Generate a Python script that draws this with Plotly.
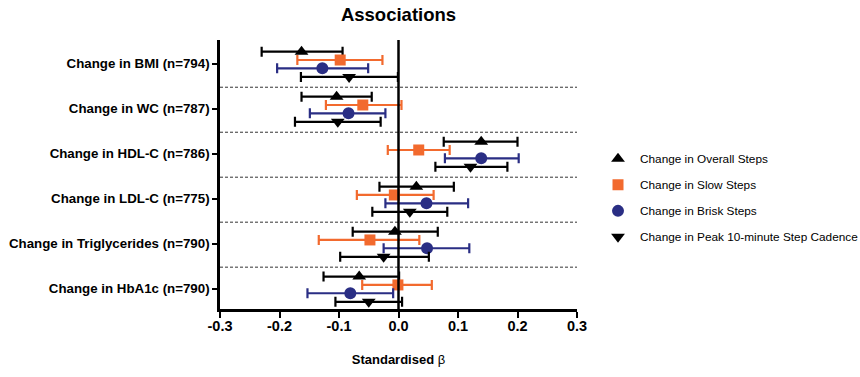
import plotly.graph_objects as go

categories = ["Change in BMI (n=794)", "Change in WC (n=787)", "Change in HDL-C (n=786)",
              "Change in LDL-C (n=775)", "Change in Triglycerides (n=790)", "Change in HbA1c (n=790)"]

series_names = ["Change in Overall Steps", "Change in Slow Steps", "Change in Brisk Steps",
                "Change in Peak 10-minute Step Cadence"]

overall_beta = [-0.163, -0.104, 0.139, 0.030, -0.006, -0.066]
overall_lo = [-0.230, -0.163, 0.076, -0.032, -0.077, -0.126]
overall_hi = [-0.094, -0.045, 0.200, 0.093, 0.066, 0.001]

slow_beta = [-0.098, -0.060, 0.034, -0.007, -0.048, -0.001]
slow_lo = [-0.170, -0.122, -0.018, -0.070, -0.134, -0.061]
slow_hi = [-0.027, 0.005, 0.086, 0.059, 0.035, 0.056]

brisk_beta = [-0.128, -0.084, 0.139, 0.047, 0.048, -0.081]
brisk_lo = [-0.204, -0.149, 0.078, -0.022, -0.025, -0.153]
brisk_hi = [-0.051, -0.022, 0.202, 0.117, 0.119, -0.009]

peak_beta = [-0.083, -0.102, 0.121, 0.019, -0.025, -0.050]
peak_lo = [-0.164, -0.174, 0.062, -0.044, -0.098, -0.106]
peak_hi = [-0.001, -0.030, 0.183, 0.082, 0.051, 0.006]

x_ticks = [-0.3, -0.2, -0.1, 0.0, 0.1, 0.2, 0.3]
x_ticktext = ["-0.3", "-0.2", "-0.1", "0.0", "0.1", "0.2", "0.3"]

colors = ["#000000", "#F26A2E", "#2A2E84", "#000000"]
symbols = ["triangle-up", "square", "circle", "triangle-down"]
sizes = [12, 11, 12, 12]
offsets = [-0.27, -0.085, 0.1, 0.29]

data = [
    (overall_beta, overall_lo, overall_hi),
    (slow_beta, slow_lo, slow_hi),
    (brisk_beta, brisk_lo, brisk_hi),
    (peak_beta, peak_lo, peak_hi),
]

FONT = "Liberation Sans, Arial, sans-serif"
fig = go.Figure()
for k, (b, lo, hi) in enumerate(data):
    ys = [i + offsets[k] for i in range(len(categories))]
    fig.add_trace(go.Scatter(
        x=b, y=ys, mode="markers", name=series_names[k],
        legendgroup=f"g{k}",
        marker=dict(symbol=symbols[k], size=sizes[k], color=colors[k], line=dict(width=0)),
        error_x=dict(type="data", symmetric=False,
                     array=[h - v for h, v in zip(hi, b)],
                     arrayminus=[v - l for v, l in zip(b, lo)],
                     color=colors[k], thickness=2.2, width=5),
    ))

shapes = []
for i in range(len(categories) - 1):
    shapes.append(dict(type="line", xref="paper", x0=0, x1=1, yref="y", y0=i + 0.52, y1=i + 0.52,
                       line=dict(color="#333333", width=1, dash="3px,2px")))
shapes.append(dict(type="line", xref="x", x0=0, x1=0, yref="paper", y0=0, y1=1,
                   line=dict(color="black", width=2.5)))

fig.update_layout(
    width=860, height=377,
    margin=dict(l=220, r=283, t=40, b=68, autoexpand=False),
    paper_bgcolor="white", plot_bgcolor="white",
    font=dict(family=FONT, color="black"),
    title=dict(text="<b>Associations</b>", x=398.5 / 860, xanchor="center", y=1 - 15 / 377, yanchor="middle",
               font=dict(size=18.5, family=FONT, color="black")),
    shapes=shapes,
    showlegend=True,
    legend=dict(x=(596 - 220) / 357, y=0.612, xanchor="left", yanchor="top", font=dict(size=11.8, family=FONT),
                tracegroupgap=7, itemwidth=34, bgcolor="rgba(0,0,0,0)"),
    xaxis=dict(range=[-0.3, 0.3], tickvals=x_ticks, ticktext=[f"<b>{t}</b>" for t in x_ticktext],
               showgrid=False, zeroline=False, automargin=False, ticklabelstandoff=-4,
               showline=True, linecolor="black", linewidth=2.5, ticks="outside", ticklen=6, tickwidth=2,
               tickcolor="black", tickfont=dict(size=14.5, family=FONT, color="black"),
               title=dict(text="<b>Standardised</b> β", font=dict(size=13, family=FONT), standoff=22)),
    yaxis=dict(range=[5.45, -0.53], tickvals=list(range(len(categories))),
               ticktext=[f"<b>{c}</b>" for c in categories], showgrid=False, zeroline=False, automargin=False,
               showline=True, linecolor="black", linewidth=2.5, ticks="outside", ticklen=5, tickwidth=2,
               tickcolor="black", tickfont=dict(size=13.3, family=FONT, color="black")),
)

fig.write_html("out.html", config={"displayModeBar": False},
               post_script="document.body.style.margin='0';")
